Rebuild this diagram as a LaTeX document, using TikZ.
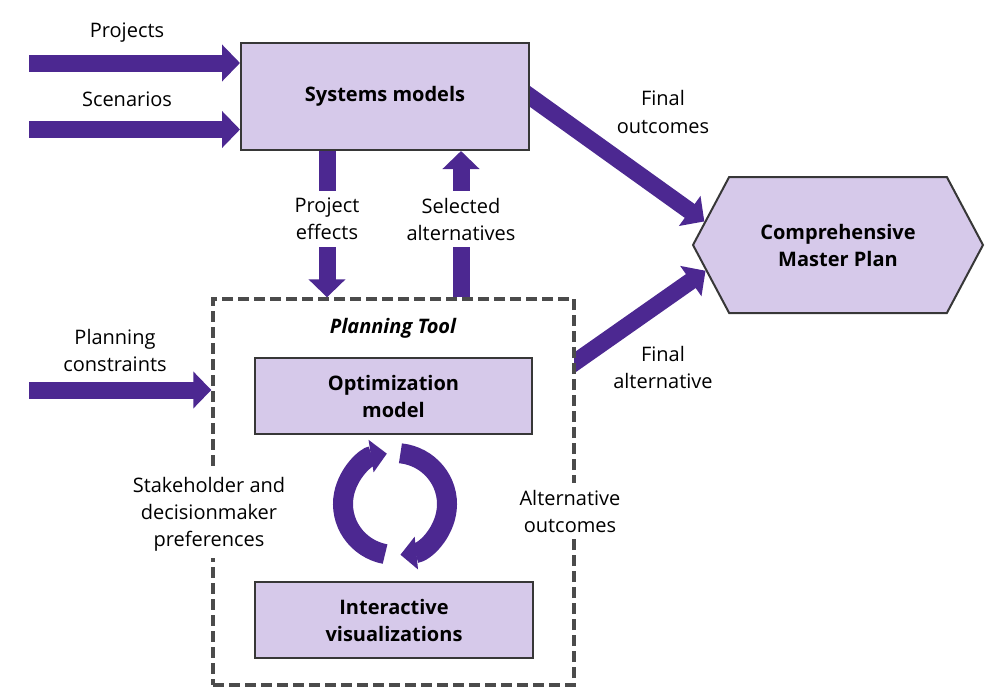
\documentclass[tikz,border=0pt]{standalone}
\usepackage{fontspec}
\setmainfont{Open Sans}
\usetikzlibrary{arrows.meta,shapes.symbols,backgrounds}

\definecolor{flowc}{RGB}{76,40,145}
\definecolor{boxfill}{RGB}{214,201,234}
\definecolor{boxline}{RGB}{55,55,55}

\tikzset{
	box/.style={draw=boxline, fill=boxfill, line width=1pt, align=center, font=\fontsize{10}{13.5}\selectfont\bfseries},
	flow/.style={draw=flowc, line width=8.5pt, -{Triangle[length=9pt,width=18pt]}},
	shaft/.style={draw=flowc, line width=8.5pt},
	cycarrow/.style={draw=flowc, line width=10pt, -{Triangle[length=8pt,width=16pt]}},
	lbl/.style={align=center}
}

\begin{document}
\begin{tikzpicture}[x=0.5pt, y=-0.5pt, font=\fontsize{10}{13.5}\selectfont]
		\useasboundingbox (0,0) rectangle (991,696);
		
		%planning tool frame
		\node[draw=boxline!90, fill=white, line width=1.7pt, dash pattern=on 5.5pt off 2.5pt,
			minimum width=180.5pt, minimum height=193pt] (tool) at (393.5,492) {};
		\node (ttl) at (393,328) {\bfseries\itshape Planning Tool};
		
		%boxes
		\node[box, minimum width=144pt, minimum height=53.5pt] (sys) at (385,96.5) {Systems models};
		\node[box, minimum width=138.5pt, minimum height=38pt] (opt) at (393.5,396) {Optimization\\model};
		\node[box, minimum width=139pt, minimum height=38pt] (vis) at (394,620) {Interactive\\visualizations};
		\node[box, signal, signal to=west and east, signal pointer angle=124,
			minimum width=145pt, minimum height=68pt] (plan) at (838,245) {Comprehensive\\Master Plan};
		
		%inputs
		\foreach \y/\t [count=\i] in {63/Projects, 129.5/Scenarios}{
			\coordinate (in\i) at (29,\y);
			\node (lb\i) at (127,\y-30) {\t};
			\draw[flow] (in\i) -- (in\i -| sys.west);
		}
		\coordinate (pc) at (29,390);
		\node[lbl] (pcl) at (115,350) {Planning\\constraints};
		\draw[flow] (pc) -- (pc -| tool.west);
		
		%between models and tool
		\node[lbl] (pe) at (327,219) {Project\\effects};
		\draw[shaft] (sys.south -| pe) -- (pe.north);
		\draw[flow] (pe.south) -- (pe |- tool.north);
		\node[lbl] (sa) at (461,219) {Selected\\alternatives};
		\draw[flow] (sa.north) -- (sa.north |- sys.south);
		\draw[shaft] (sa.south |- tool.north) -- (sa.south);
		
		%to the master plan
		\node[lbl] (fo) at (663,112) {Final\\outcomes};
		\node[lbl] (fal) at (663,367) {Final\\alternative};
		\coordinate (fa) at (574,363);
		\begin{scope}[on background layer]
			\draw[flow, shorten <=-10pt] (sys.east) -- (plan.170);
			\draw[flow, shorten <=-10pt] (fa) -- (plan.191);
		\end{scope}
		
		%feedback loop
		\node[lbl, fill=white] (sk) at (209,514) {Stakeholder and\\decisionmaker\\preferences};
		\node[lbl, fill=white] (ao) at (570,511) {Alternative\\outcomes};
		\coordinate (cyc) at (395,504);
		\draw[cycarrow] (cyc) ++(101:52 and 51) arc[start angle=101, end angle=261, x radius=52, y radius=51];
		\draw[cycarrow] (cyc) ++(276:52 and 51) arc[start angle=276, end angle=444, x radius=52, y radius=51];
\end{tikzpicture}
\end{document}
